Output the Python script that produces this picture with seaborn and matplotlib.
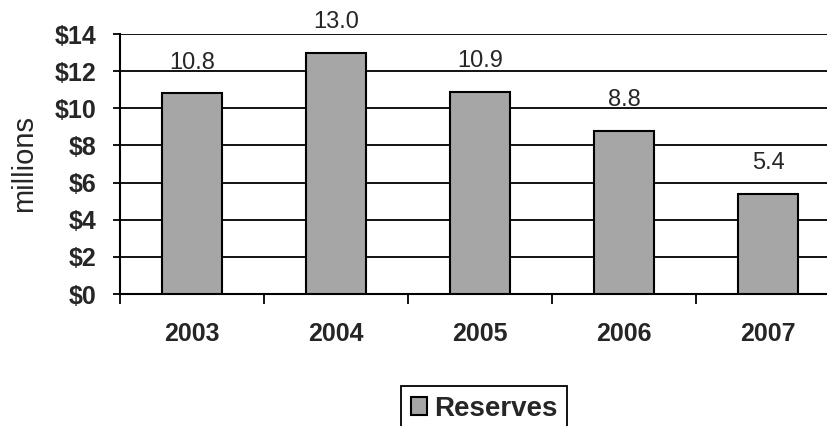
import matplotlib
matplotlib.use("Agg")
import matplotlib.pyplot as plt
import matplotlib.ticker as mticker
import seaborn as sns
import pandas as pd

years = ["2003", "2004", "2005", "2006", "2007"]
reserves = [10.8, 13.0, 10.9, 8.8, 5.4]
y_ticks = [0, 2, 4, 6, 8, 10, 12, 14]

df = pd.DataFrame({"year": years, "reserves": reserves})

sns.set_theme(style="white")
plt.rcParams["font.family"] = ["Liberation Sans", "DejaVu Sans"]

fig = plt.figure(figsize=(8.28, 4.26), dpi=100)
ax = fig.add_axes([120 / 828, 132 / 426, 720 / 828, 260 / 426])

sns.barplot(data=df, x="year", y="reserves", color="#a6a6a6", width=0.41,
            edgecolor="black", linewidth=1.5, saturation=1, ax=ax,
            label="Reserves", zorder=3, legend=False)

ax.set_xlim(-0.5, len(years) - 0.5)
ax.set_ylim(0, 14)
ax.set_yticks(y_ticks)
ax.yaxis.set_major_formatter(mticker.FuncFormatter(lambda v, p: f"${v:.0f}"))
ax.grid(axis="y", color="black", linewidth=1.3, zorder=0)
ax.grid(axis="x", visible=False)

# category labels at centers, tick marks at category boundaries
ax.set_xticks(range(len(years)))
ax.set_xticklabels(years, fontsize=18, fontweight="bold")
ax.tick_params(axis="x", which="major", length=0, pad=20)
ax.set_xticks([i - 0.5 for i in range(len(years) + 1)], minor=True)
ax.tick_params(axis="x", which="minor", length=7, width=1.3, color="black",
               direction="out", bottom=True)
ax.tick_params(axis="y", length=5, width=1.3, color="black", direction="out",
               left=True, labelsize=18, pad=12)
for t in ax.get_yticklabels():
    t.set_fontweight("bold")

for s in ["top", "right"]:
    ax.spines[s].set_visible(False)
for s in ["left", "bottom"]:
    ax.spines[s].set_color("black")
    ax.spines[s].set_linewidth(1.5)

ax.set_xlabel("")
ax.set_ylabel("millions", fontsize=21, labelpad=12)

for i, v in enumerate(reserves):
    ax.annotate(f"{v:.1f}", (i, v), xytext=(0, 14), textcoords="offset points",
                ha="center", va="bottom", fontsize=17)

handles, labels = ax.get_legend_handles_labels()
leg = fig.legend(handles, labels, loc="upper center",
                 bbox_to_anchor=(484 / 828, 1 - 372 / 426), frameon=True,
                 fancybox=False, edgecolor="black", framealpha=1,
                 prop={"weight": "bold", "size": 20}, handlelength=0.6,
                 handleheight=0.6, handletextpad=0.25, borderpad=0.35)
leg.get_frame().set_linewidth(1.3)

fig.savefig("out.png", dpi=100)
